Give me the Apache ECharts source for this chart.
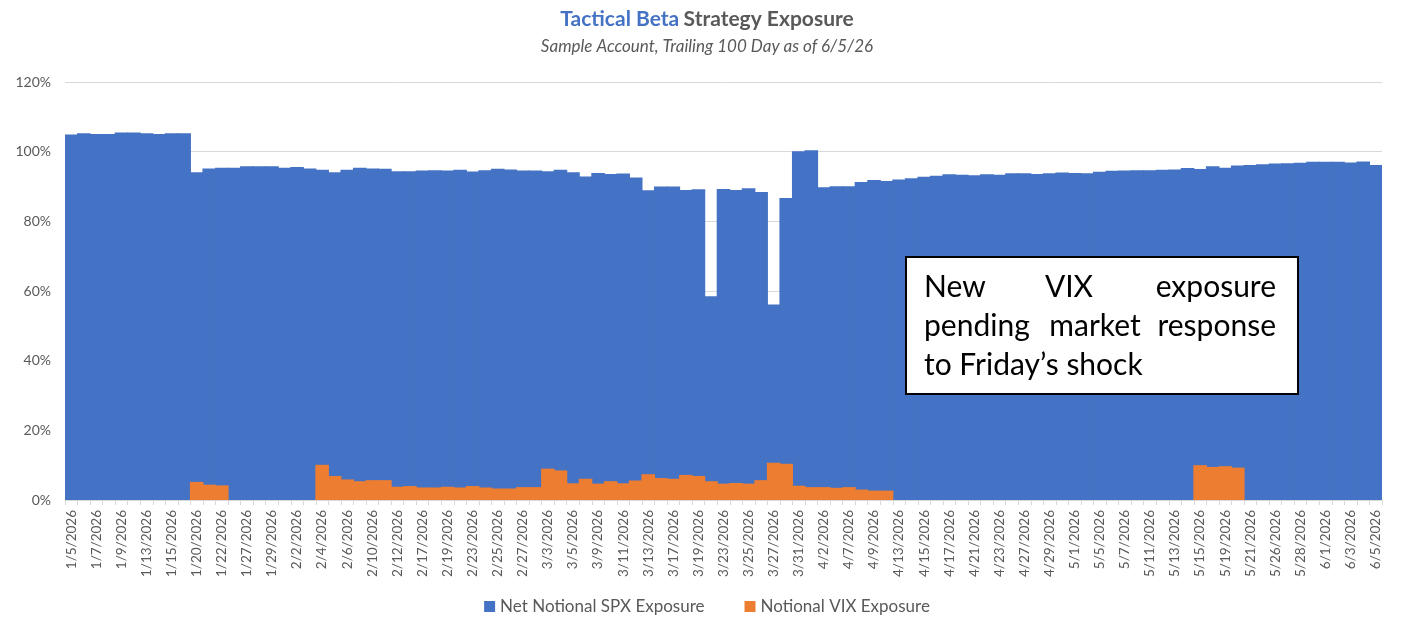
<!DOCTYPE html>
<html>
<head>
<meta charset="utf-8">
<title>Tactical Beta Strategy Exposure</title>
<script src="https://cdn.jsdelivr.net/npm/echarts@6/dist/echarts.min.js"></script>
<style>
  html, body { margin: 0; padding: 0; background: #fff; }
  #chart { width: 1414px; height: 636px; }
</style>
</head>
<body>
<div id="chart"></div>
<script>
// trading days, trailing window
var dates = [
  '1/5/2026','1/6/2026','1/7/2026','1/8/2026','1/9/2026','1/12/2026','1/13/2026','1/14/2026','1/15/2026','1/16/2026',
  '1/20/2026','1/21/2026','1/22/2026','1/23/2026','1/27/2026','1/28/2026','1/29/2026','1/30/2026','2/2/2026','2/3/2026',
  '2/4/2026','2/5/2026','2/6/2026','2/9/2026','2/10/2026','2/11/2026','2/12/2026','2/13/2026','2/17/2026','2/18/2026',
  '2/19/2026','2/20/2026','2/23/2026','2/24/2026','2/25/2026','2/26/2026','2/27/2026','3/2/2026','3/3/2026','3/4/2026',
  '3/5/2026','3/6/2026','3/9/2026','3/10/2026','3/11/2026','3/12/2026','3/13/2026','3/16/2026','3/17/2026','3/18/2026',
  '3/19/2026','3/20/2026','3/23/2026','3/24/2026','3/25/2026','3/26/2026','3/27/2026','3/30/2026','3/31/2026','4/1/2026',
  '4/2/2026','4/6/2026','4/7/2026','4/8/2026','4/9/2026','4/10/2026','4/13/2026','4/14/2026','4/15/2026','4/16/2026',
  '4/17/2026','4/20/2026','4/21/2026','4/22/2026','4/23/2026','4/24/2026','4/27/2026','4/28/2026','4/29/2026','4/30/2026',
  '5/1/2026','5/4/2026','5/5/2026','5/6/2026','5/7/2026','5/8/2026','5/11/2026','5/12/2026','5/13/2026','5/14/2026',
  '5/15/2026','5/18/2026','5/19/2026','5/20/2026','5/21/2026','5/22/2026','5/26/2026','5/27/2026','5/28/2026','5/29/2026',
  '6/1/2026','6/2/2026','6/3/2026','6/4/2026','6/5/2026'
];

// Net Notional SPX Exposure (%)
var spx = [
  104.9, 105.3, 105.1, 105.1, 105.5, 105.5, 105.3, 105.1, 105.3, 105.3,
  94.1, 95.2, 95.4, 95.4, 95.8, 95.8, 95.8, 95.4, 95.6, 95.2,
  94.8, 94.1, 94.8, 95.4, 95.2, 95.1, 94.4, 94.4, 94.6, 94.7,
  94.6, 94.8, 94.3, 94.7, 95.1, 94.9, 94.6, 94.6, 94.4, 94.8,
  94.1, 92.9, 93.9, 93.6, 93.7, 92.6, 88.9, 90.0, 90.0, 89.0,
  89.2, 58.5, 89.3, 89.0, 89.5, 88.4, 56.1, 86.7, 100.1, 100.4,
  89.8, 90.1, 90.1, 91.3, 91.9, 91.6, 92.0, 92.4, 92.8, 93.1,
  93.5, 93.4, 93.2, 93.5, 93.4, 93.8, 93.8, 93.6, 93.8, 94.0,
  93.9, 93.8, 94.2, 94.5, 94.6, 94.7, 94.7, 94.8, 94.9, 95.3,
  95.0, 95.8, 95.4, 96.0, 96.2, 96.4, 96.6, 96.7, 96.8, 97.1,
  97.1, 97.1, 96.9, 97.2, 96.2
];

// Notional VIX Exposure (%)
var vix = [
  0, 0, 0, 0, 0, 0, 0, 0, 0, 0,
  5.2, 4.4, 4.2, 0, 0, 0, 0, 0, 0, 0,
  10.1, 6.9, 5.9, 5.4, 5.7, 5.7, 3.8, 4.0, 3.6, 3.6,
  3.8, 3.6, 4.0, 3.6, 3.3, 3.3, 3.7, 3.7, 9.0, 8.5,
  4.8, 6.1, 4.7, 5.4, 4.8, 5.6, 7.4, 6.3, 6.1, 7.2,
  6.9, 5.4, 4.7, 4.9, 4.7, 5.7, 10.7, 10.4, 4.1, 3.7,
  3.7, 3.5, 3.7, 3.0, 2.7, 2.7, 0, 0, 0, 0,
  0, 0, 0, 0, 0, 0, 0, 0, 0, 0,
  0, 0, 0, 0, 0, 0, 0, 0, 0, 0,
  10.0, 9.5, 9.7, 9.3, 0, 0, 0, 0, 0, 0,
  0, 0, 0, 0, 0
];

var yTicks = [0, 20, 40, 60, 80, 100, 120];

var FONT = 'Lato, "Open Sans", sans-serif';
var GRAY = '#595959';
var BLUE = '#4472C4';
var ORANGE = '#ED7D31';
var BOX_FONT = '30px ' + FONT;

var chart = echarts.init(document.getElementById('chart'));
chart.setOption({
  animation: false,
  color: [BLUE, ORANGE],
  textStyle: { fontFamily: FONT },
  title: {
    left: 'center',
    top: 4,
    itemGap: 8,
    text: '{b|Tactical Beta} {n|Strategy Exposure}',
    textStyle: {
      rich: {
        b: { fontSize: 21, fontWeight: 'bold', color: BLUE, fontFamily: FONT },
        n: { fontSize: 21, color: GRAY, fontFamily: FONT }
      }
    },
    subtext: 'Sample Account, Trailing 100 Day as of 6/5/26',
    subtextStyle: { fontSize: 17, fontStyle: 'italic', color: GRAY, fontFamily: FONT }
  },
  legend: {
    bottom: 16,
    left: 'center',
    itemWidth: 11,
    itemHeight: 11,
    itemGap: 40,
    icon: 'rect',
    textStyle: { fontSize: 17, color: GRAY, fontFamily: FONT },
    data: ['Net Notional SPX Exposure', 'Notional VIX Exposure']
  },
  grid: { left: 65, right: 32, top: 82, bottom: 136 },
  xAxis: {
    type: 'category',
    data: dates,
    axisLine: { lineStyle: { color: '#d9d9d9' } },
    axisTick: { show: true, interval: 0, length: 5, lineStyle: { color: '#d9d9d9' } },
    axisLabel: { interval: 1, rotate: 90, fontSize: 13.5, color: GRAY, margin: 10, fontFamily: FONT }
  },
  yAxis: {
    type: 'value',
    min: yTicks[0],
    max: yTicks[yTicks.length - 1],
    interval: 20,
    axisLine: { show: false },
    axisTick: { show: false },
    splitLine: { lineStyle: { color: '#d9d9d9' } },
    axisLabel: { formatter: '{value}%', fontSize: 14, color: GRAY, margin: 14, fontFamily: FONT }
  },
  series: [
    {
      name: 'Net Notional SPX Exposure',
      type: 'bar',
      data: spx,
      barWidth: 13.6,
      barGap: '-100%',
      itemStyle: { color: BLUE }
    },
    {
      name: 'Notional VIX Exposure',
      type: 'bar',
      data: vix,
      barWidth: 13.6,
      barGap: '-100%',
      itemStyle: { color: ORANGE }
    }
  ],
  graphic: [
    {
      type: 'group',
      left: 905,
      top: 256,
      z: 100,
      children: [
        { type: 'rect', z: 100, shape: { x: 0, y: 0, width: 392, height: 137 },
          style: { fill: '#fff', stroke: '#000', lineWidth: 2 } },
        { type: 'text', z: 101, x: 18, y: 30, style: { text: 'New', font: BOX_FONT, fill: '#000', verticalAlign: 'middle' } },
        { type: 'text', z: 101, x: 163, y: 30, style: { text: 'VIX', font: BOX_FONT, fill: '#000', align: 'center', verticalAlign: 'middle' } },
        { type: 'text', z: 101, x: 370, y: 30, style: { text: 'exposure', font: BOX_FONT, fill: '#000', align: 'right', verticalAlign: 'middle' } },
        { type: 'text', z: 101, x: 18, y: 69, style: { text: 'pending', font: BOX_FONT, fill: '#000', verticalAlign: 'middle' } },
        { type: 'text', z: 101, x: 189, y: 69, style: { text: 'market', font: BOX_FONT, fill: '#000', align: 'center', verticalAlign: 'middle' } },
        { type: 'text', z: 101, x: 370, y: 69, style: { text: 'response', font: BOX_FONT, fill: '#000', align: 'right', verticalAlign: 'middle' } },
        { type: 'text', z: 101, x: 18, y: 108, style: { text: 'to Friday\u2019s shock', font: BOX_FONT, fill: '#000', verticalAlign: 'middle' } }
      ]
    }
  ]
});
</script>
</body>
</html>
